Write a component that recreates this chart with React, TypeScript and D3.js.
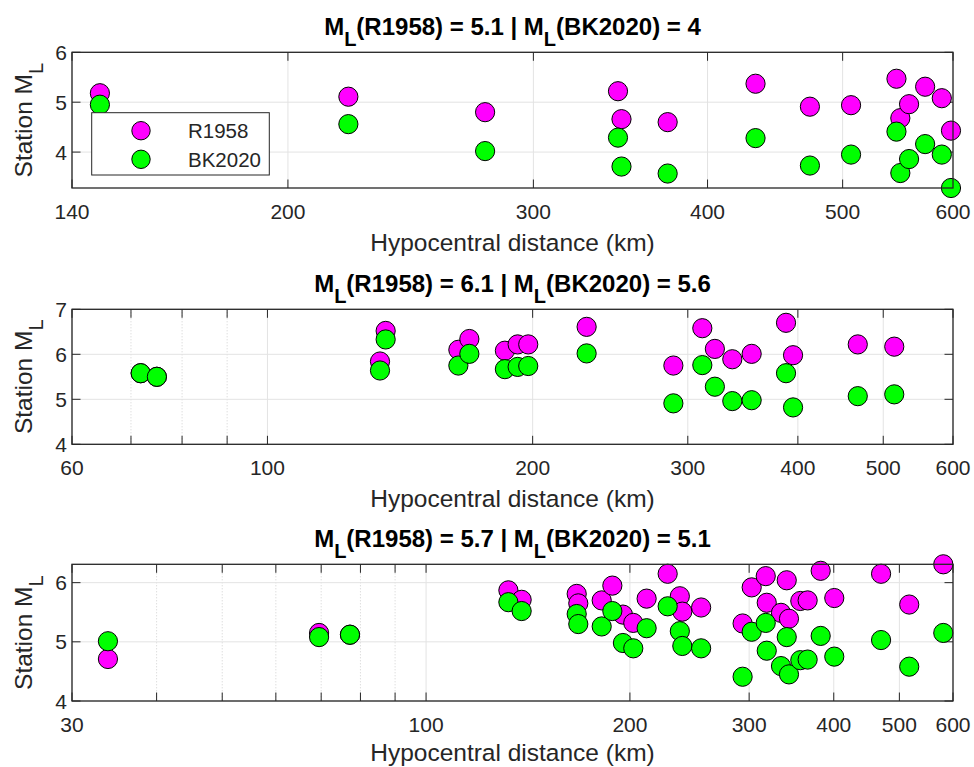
import React from "react";
import * as d3 from "d3";

// ---------- data ----------
const p1Dist = [146.6, 221, 277, 345, 347, 374.5, 433, 473.7, 507, 546.5, 550, 558, 573, 589, 598];
const p1R1958 = [5.18, 5.11, 4.8, 5.22, 4.66, 4.6, 5.37, 4.91, 4.94, 5.47, 4.68, 4.96, 5.31, 5.08, 4.43];
const p1BK2020 = [4.95, 4.56, 4.02, 4.29, 3.71, 3.57, 4.28, 3.73, 3.95, 4.41, 3.58, 3.86, 4.16, 3.95, 3.28];

const p2Dist = [71.8, 74.9, 134.2, 136.2, 164.7, 169.5, 186, 192.3, 197.7, 230.3, 288.9, 311.6, 322, 337, 354.5, 387.8, 395, 467.8, 514.6];
const p2R1958 = [5.58, 5.5, 5.84, 6.52, 6.1, 6.34, 6.08, 6.22, 6.22, 6.61, 5.75, 6.58, 6.12, 5.89, 6.01, 6.7, 5.98, 6.22, 6.17];
const p2BK2020 = [5.58, 5.5, 5.64, 6.33, 5.75, 6.01, 5.67, 5.72, 5.74, 6.02, 4.91, 5.76, 5.28, 4.96, 4.98, 5.58, 4.82, 5.07, 5.11];

const p3Dist = [33.9, 69.5, 77.2, 132.3, 138.4, 166.9, 167.8, 181.7, 188.4, 195.3, 202.3, 211.7, 227.4, 237, 239, 254.8, 293.4, 302.6, 317.4, 318.5, 334.3, 340.9, 343.5, 357, 366, 382.6, 400.7, 469.8, 517, 580.5];
const p3R1958 = [4.71, 5.15, 5.12, 5.87, 5.71, 5.81, 5.65, 5.7, 5.95, 5.46, 5.32, 5.73, 6.15, 5.77, 5.51, 5.58, 5.31, 5.92, 6.11, 5.66, 5.49, 6.04, 5.39, 5.69, 5.7, 6.2, 5.74, 6.15, 5.63, 6.31];
const p3BK2020 = [5.01, 5.08, 5.12, 5.67, 5.52, 5.47, 5.3, 5.26, 5.52, 4.98, 4.89, 5.23, 5.6, 5.18, 4.93, 4.89, 4.41, 5.17, 5.32, 4.85, 4.59, 5.08, 4.45, 4.69, 4.7, 5.1, 4.75, 5.03, 4.58, 5.15];

const titleR1958 = ["5.1", "6.1", "5.7"];
const titleBK2020 = ["4", "5.6", "5.1"];

const p1XTicks = [140, 200, 300, 400, 500, 600];
const p2XTicks = [60, 100, 200, 300, 400, 500, 600];
const p3XTicks = [30, 100, 200, 300, 400, 500, 600];
const p1XMinor: number[] = [];
const p2XMinor = [70, 80, 90];
const p3XMinor = [40, 50, 60, 70, 80, 90];
const p1YTicks = [4, 5, 6];
const p2YTicks = [4, 5, 6, 7];
const p3YTicks = [4, 5, 6];

const seriesNames = ["R1958", "BK2020"];

// ---------- layout ----------
const W = 974;
const H = 767;
const LEFT = 72;
const RIGHT = 953;
const FONT = "'Liberation Sans', Arial, Helvetica, sans-serif";
const TXT = "#262626";
const MAGENTA = "#ff00ff";
const GREEN = "#00ff00";

interface PanelCfg {
  top: number;
  bottom: number;
  xDomain: [number, number];
  yDomain: [number, number];
  xTicks: number[];
  xMinor: number[];
  yTicks: number[];
  dist: number[];
  r: number[];
  bk: number[];
  legend: boolean;
  xLabelOffset: number;
}

const panels: PanelCfg[] = [
  { top: 52.3, bottom: 188, xDomain: [140, 600], yDomain: [3.28, 6], xTicks: p1XTicks, xMinor: p1XMinor, yTicks: p1YTicks, dist: p1Dist, r: p1R1958, bk: p1BK2020, legend: true, xLabelOffset: 62.7 },
  { top: 309.3, bottom: 444.3, xDomain: [60, 600], yDomain: [4, 7], xTicks: p2XTicks, xMinor: p2XMinor, yTicks: p2YTicks, dist: p2Dist, r: p2R1958, bk: p2BK2020, legend: false, xLabelOffset: 62.7 },
  { top: 564.3, bottom: 701, xDomain: [30, 600], yDomain: [4, 6.31], xTicks: p3XTicks, xMinor: p3XMinor, yTicks: p3YTicks, dist: p3Dist, r: p3R1958, bk: p3BK2020, legend: false, xLabelOffset: 60 },
];

const TICK = 8.5;
const MR = 9.6;

function Panel({ cfg, idx }: { cfg: PanelCfg; idx: number }) {
  const x = d3.scaleLog().domain(cfg.xDomain).range([LEFT, RIGHT]);
  const y = d3.scaleLinear().domain(cfg.yDomain).range([cfg.bottom, cfg.top]);
  const midX = (LEFT + RIGHT) / 2;
  const midY = (cfg.top + cfg.bottom) / 2;
  return (
    <g>
      <rect x={LEFT} y={cfg.top} width={RIGHT - LEFT} height={cfg.bottom - cfg.top} fill="#ffffff" />
      {/* minor grid */}
      {cfg.xMinor.map((v) => (
        <line key={"mg" + v} x1={x(v)} x2={x(v)} y1={cfg.top} y2={cfg.bottom} stroke="#d0d0d0" strokeWidth={1} strokeDasharray="1,2" />
      ))}
      {/* major grid */}
      {cfg.xTicks.map((v) => (
        <line key={"xg" + v} x1={x(v)} x2={x(v)} y1={cfg.top} y2={cfg.bottom} stroke="#e3e3e3" strokeWidth={1} />
      ))}
      {cfg.yTicks.map((v) => (
        <line key={"yg" + v} x1={LEFT} x2={RIGHT} y1={y(v)} y2={y(v)} stroke="#e3e3e3" strokeWidth={1} />
      ))}
      {/* ticks */}
      {cfg.xTicks.concat(cfg.xMinor).map((v) => (
        <g key={"xt" + v}>
          <line x1={x(v)} x2={x(v)} y1={cfg.bottom} y2={cfg.bottom - TICK} stroke={TXT} strokeWidth={1} />
          <line x1={x(v)} x2={x(v)} y1={cfg.top} y2={cfg.top + TICK} stroke={TXT} strokeWidth={1} />
        </g>
      ))}
      {cfg.yTicks.map((v) => (
        <g key={"yt" + v}>
          <line x1={LEFT} x2={LEFT + TICK} y1={y(v)} y2={y(v)} stroke={TXT} strokeWidth={1} />
          <line x1={RIGHT} x2={RIGHT - TICK} y1={y(v)} y2={y(v)} stroke={TXT} strokeWidth={1} />
        </g>
      ))}
      {/* points */}
      <g>
        {cfg.dist.map((d, i) => (
          <circle key={"r" + i} cx={x(d)} cy={y(cfg.r[i])} r={MR} fill={MAGENTA} stroke="#000" strokeWidth={1} />
        ))}
        {cfg.dist.map((d, i) => (
          <circle key={"b" + i} cx={x(d)} cy={y(cfg.bk[i])} r={MR} fill={GREEN} stroke="#000" strokeWidth={1} />
        ))}
      </g>
      {/* box */}
      <rect x={LEFT} y={cfg.top} width={RIGHT - LEFT} height={cfg.bottom - cfg.top} fill="none" stroke={TXT} strokeWidth={1.3} />
      {/* tick labels */}
      {cfg.xTicks.map((v) => (
        <text key={"xl" + v} x={x(v)} y={cfg.bottom + 30.5} textAnchor="middle" fontSize={21} fill={TXT} fontFamily={FONT}>
          {v}
        </text>
      ))}
      {cfg.yTicks.map((v) => (
        <text key={"yl" + v} x={67} y={y(v) + 7.5} textAnchor="end" fontSize={21} fill={TXT} fontFamily={FONT}>
          {v}
        </text>
      ))}
      {/* x label */}
      <text x={midX} y={cfg.bottom + cfg.xLabelOffset} textAnchor="middle" fontSize={24.5} fill={TXT} fontFamily={FONT}>
        Hypocentral distance (km)
      </text>
      {/* y label */}
      <text transform={`translate(32,${midY}) rotate(-90)`} textAnchor="middle" fontSize={24.5} fill={TXT} fontFamily={FONT}>
        Station M<tspan fontSize={20} dy={11}>L</tspan>
      </text>
      {/* title */}
      <text x={midX} y={cfg.top - 17.5} textAnchor="middle" fontSize={24} fontWeight="bold" fill="#000" fontFamily={FONT}>
        M<tspan fontSize={20} dy={11}>L</tspan>
        <tspan dy={-11}>({seriesNames[0]}) = {titleR1958[idx]} | M</tspan>
        <tspan fontSize={20} dy={11}>L</tspan>
        <tspan dy={-11}>({seriesNames[1]}) = {titleBK2020[idx]}</tspan>
      </text>
      {cfg.legend && (
        <g>
          <rect x={91.7} y={112.7} width={177.6} height={62.3} fill="#fff" stroke={TXT} strokeWidth={1} />
          {seriesNames.map((s, i) => (
            <g key={s}>
              <circle cx={141} cy={130.7 + i * 28.6} r={9.2} fill={i === 0 ? MAGENTA : GREEN} stroke="#000" strokeWidth={1} />
              <text x={188} y={130.7 + i * 28.6 + 7.5} fontSize={20.5} fill={TXT} fontFamily={FONT}>
                {s}
              </text>
            </g>
          ))}
        </g>
      )}
    </g>
  );
}

export default function App() {
  return (
    <svg width={W} height={H} viewBox={`0 0 ${W} ${H}`} style={{ position: "absolute", left: 0, top: 0, background: "#fff" }}>
      <rect x={0} y={0} width={W} height={H} fill="#fff" />
      {panels.map((p, i) => (
        <Panel key={i} cfg={p} idx={i} />
      ))}
    </svg>
  );
}
